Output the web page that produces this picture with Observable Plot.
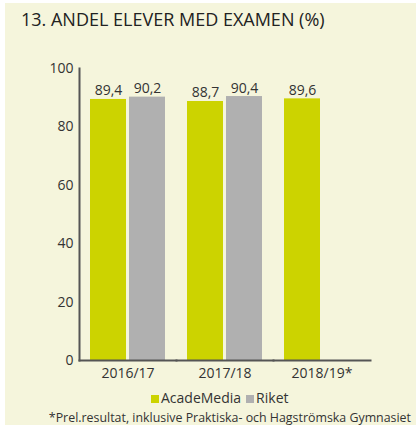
<!DOCTYPE html>
<html>
<head>
<meta charset="utf-8">
<script src="https://cdn.jsdelivr.net/npm/d3@7"></script>
<script src="https://cdn.jsdelivr.net/npm/@observablehq/plot@0.6"></script>
<style>
  html, body { margin: 0; padding: 0; background: #ffffff; }
  body { width: 419px; height: 425px; position: relative; overflow: hidden; font-family: "Open Sans", sans-serif; }
  #bg { position: absolute; left: 5px; top: 3px; width: 411px; height: 422px; background: #f5f5dc; }
  #title { position: absolute; left: 21px; top: 7px; font-size: 18px; color: #222; white-space: nowrap; }
  #chart { position: absolute; left: 0; top: 40px; }
  #legend { position: absolute; left: 151px; top: 388px; font-size: 14px; color: #333; white-space: nowrap; }
  #legend span.sw { display: inline-block; width: 8px; height: 8px; margin-right: 2px; }
  #legend span.item { margin-right: 5px; }
  #note { position: absolute; right: 8px; top: 409px; font-size: 12.4px; color: #333; white-space: nowrap; }
</style>
</head>
<body>
<div id="bg"></div>
<div id="title">13. ANDEL ELEVER MED EXAMEN (%)</div>
<div id="chart"></div>
<div id="legend"></div>
<div id="note">*Prel.resultat, inklusive Praktiska- och Hagströmska Gymnasiet</div>
<script>
const years = ["2016/17", "2017/18", "2018/19*"];
const series = ["AcadeMedia", "Riket"];
const academedia = [89.4, 88.7, 89.6];
const riket = [90.2, 90.4, null];
const yTicks = [0, 20, 40, 60, 80, 100];
const colors = ["#ccd300", "#b0b0b0"];

const data = [];
years.forEach((y, i) => {
  if (academedia[i] != null) data.push({year: y, series: series[0], value: academedia[i]});
  if (riket[i] != null) data.push({year: y, series: series[1], value: riket[i]});
});
const fmt = v => v.toFixed(1).replace(".", ",");

const chart = Plot.plot({
  width: 419,
  height: 345,
  marginLeft: 79,
  marginRight: 49,
  marginTop: 28,
  marginBottom: 25,
  style: {background: "transparent", fontFamily: "Open Sans, sans-serif", fontSize: "14px", color: "#333"},
  fx: {domain: years, padding: 0, label: null, tickSize: 0, tickPadding: 8},
  x: {domain: series, paddingInner: 0.077, paddingOuter: 0.282, axis: null, label: null},
  y: {domain: [0, 100], ticks: yTicks, label: null, tickSize: 0, tickPadding: 6},
  color: {domain: series, range: colors},
  marks: [
    Plot.barY(data, {fx: "year", x: "series", y: "value", fill: "series"}),
    Plot.text(data, {fx: "year", x: "series", y: "value", text: d => fmt(d.value), lineAnchor: "bottom", dy: -4, fontSize: 14, fill: "#333"}),
    Plot.frame({anchor: "bottom", stroke: "#555", strokeWidth: 2}),
    Plot.frame({anchor: "left", facetAnchor: "left", stroke: "#555", strokeWidth: 2})
  ]
});
document.getElementById("chart").appendChild(chart);

const legend = document.getElementById("legend");
series.forEach((s, i) => {
  const item = document.createElement("span");
  item.className = "item";
  const sw = document.createElement("span");
  sw.className = "sw";
  sw.style.background = colors[i];
  item.appendChild(sw);
  item.appendChild(document.createTextNode(s));
  legend.appendChild(item);
});
</script>
</body>
</html>
